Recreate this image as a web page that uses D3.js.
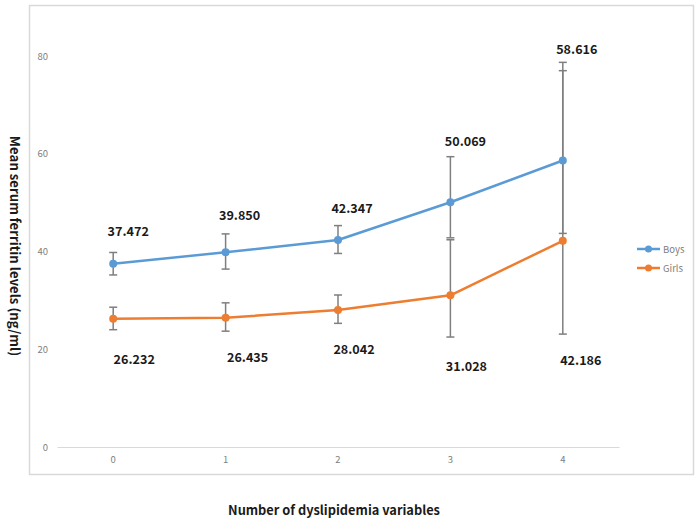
<!DOCTYPE html>
<html><head><meta charset="utf-8">
<script src="https://cdn.jsdelivr.net/npm/d3@7"></script>
<style>body{margin:0;background:#fff}svg{display:block}</style>
</head><body>
<script>
const categories = ["0","1","2","3","4"];
const boys  = [37.472, 39.850, 42.347, 50.069, 58.616];
const girls = [26.232, 26.435, 28.042, 31.028, 42.186];
const boysLow  = [35.2, 36.4, 39.6, 42.8, 43.7];
const boysHigh = [39.8, 43.6, 45.3, 59.4, 78.7];
const girlsLow  = [24.0, 23.7, 25.3, 22.5, 23.1];
const girlsHigh = [28.6, 29.5, 31.1, 42.4, 77.0];
const yTicks = [0, 20, 40, 60, 80];
const seriesNames = ["Boys", "Girls"];

// label placement (pixel offsets from point)
const boysLabelOff  = [[15,-33],[14,-38],[14,-33],[15,-62],[14,-112]];
const girlsLabelOff = [[21,40],[22,39],[16,39],[16,70],[18,119]];

const W = 700, H = 522;
const svg = d3.select("body").append("svg").attr("width", W).attr("height", H);

// frame
svg.append("rect").attr("x", 29.5).attr("y", 5.5).attr("width", 664).attr("height", 469)
  .attr("fill", "#fff").attr("stroke", "#d9d9d9").attr("stroke-width", 1.5);

const x = d3.scaleBand().domain(categories).range([57, 619]);
const y = d3.scaleLinear().domain([0, 80]).range([447, 56]);
const cx = c => x(c) + x.bandwidth() / 2;

const font = "Noto Sans CJK KR, sans-serif";

// x axis baseline
const xAxis = d3.axisBottom(x).tickSize(0).tickPadding(9);
const gx = svg.append("g").attr("transform", "translate(0,447)").call(xAxis);
gx.select(".domain").attr("stroke", "#d9d9d9").attr("stroke-width", 1);
gx.selectAll("text").attr("fill", "#808080").attr("font-size", 9.5).attr("font-family", font);

const yAxis = d3.axisLeft(y).tickValues(yTicks).tickSize(0).tickPadding(9);
const gy = svg.append("g").attr("transform", "translate(57,0)").call(yAxis);
gy.select(".domain").remove();
gy.selectAll("text").attr("fill", "#808080").attr("font-size", 9.5).attr("font-family", font);

const colors = {Boys: "#5b9bd5", Girls: "#ed7d31"};
const sets = [
  {name: "Boys", vals: boys, lo: boysLow, hi: boysHigh},
  {name: "Girls", vals: girls, lo: girlsLow, hi: girlsHigh}
];

// error bars
const eb = svg.append("g").attr("stroke", "#7f7f7f").attr("stroke-width", 1.5).attr("fill", "none");
sets.forEach(s => {
  categories.forEach((c, i) => {
    const xx = cx(c);
    eb.append("line").attr("x1", xx).attr("x2", xx).attr("y1", y(s.lo[i])).attr("y2", y(s.hi[i]));
    [s.lo[i], s.hi[i]].forEach(v => {
      eb.append("line").attr("x1", xx - 4).attr("x2", xx + 4).attr("y1", y(v)).attr("y2", y(v));
    });
  });
});

// lines and markers
const line = d3.line().x((d, i) => cx(categories[i])).y(d => y(d));
sets.forEach(s => {
  svg.append("path").datum(s.vals).attr("d", line).attr("fill", "none")
    .attr("stroke", colors[s.name]).attr("stroke-width", 2.5).attr("stroke-linejoin", "round");
  svg.selectAll(null).data(s.vals).enter().append("circle")
    .attr("cx", (d, i) => cx(categories[i])).attr("cy", d => y(d)).attr("r", 4)
    .attr("fill", colors[s.name]);
});

// value labels
const lab = svg.append("g").attr("font-family", font).attr("font-weight", "bold")
  .attr("font-size", 12.6).attr("fill", "#1a1a1a").attr("text-anchor", "middle").attr("dominant-baseline", "central");
boys.forEach((v, i) => {
  lab.append("text").attr("x", cx(categories[i]) + boysLabelOff[i][0]).attr("y", y(v) + boysLabelOff[i][1]).text(v.toFixed(3));
});
girls.forEach((v, i) => {
  lab.append("text").attr("x", cx(categories[i]) + girlsLabelOff[i][0]).attr("y", y(v) + girlsLabelOff[i][1]).text(v.toFixed(3));
});

// legend
const lg = svg.append("g");
seriesNames.forEach((n, i) => {
  const ly = 249 + i * 19;
  lg.append("line").attr("x1", 637).attr("x2", 660).attr("y1", ly).attr("y2", ly)
    .attr("stroke", colors[n]).attr("stroke-width", 2.5);
  lg.append("circle").attr("cx", 648.5).attr("cy", ly).attr("r", 3.5).attr("fill", colors[n]);
  lg.append("text").attr("x", 663).attr("y", ly).attr("dominant-baseline", "central")
    .attr("font-size", 9.5).attr("fill", "#808080").attr("font-family", font).text(n);
});

// axis titles
svg.append("text").attr("x", 334).attr("y", 509).attr("text-anchor", "middle").attr("dominant-baseline", "central")
  .attr("font-family", font).attr("font-weight", "bold").attr("font-size", 12.8)
  .attr("fill", "#1a1a1a").text("Number of dyslipidemia variables");
svg.append("text").attr("transform", "translate(15,246) rotate(90)").attr("text-anchor", "middle").attr("dominant-baseline", "central")
  .attr("font-family", font).attr("font-weight", "bold").attr("font-size", 13.2)
  .attr("fill", "#1a1a1a").text("Mean serum ferritin levels (ng/ml)");
</script>
</body></html>
